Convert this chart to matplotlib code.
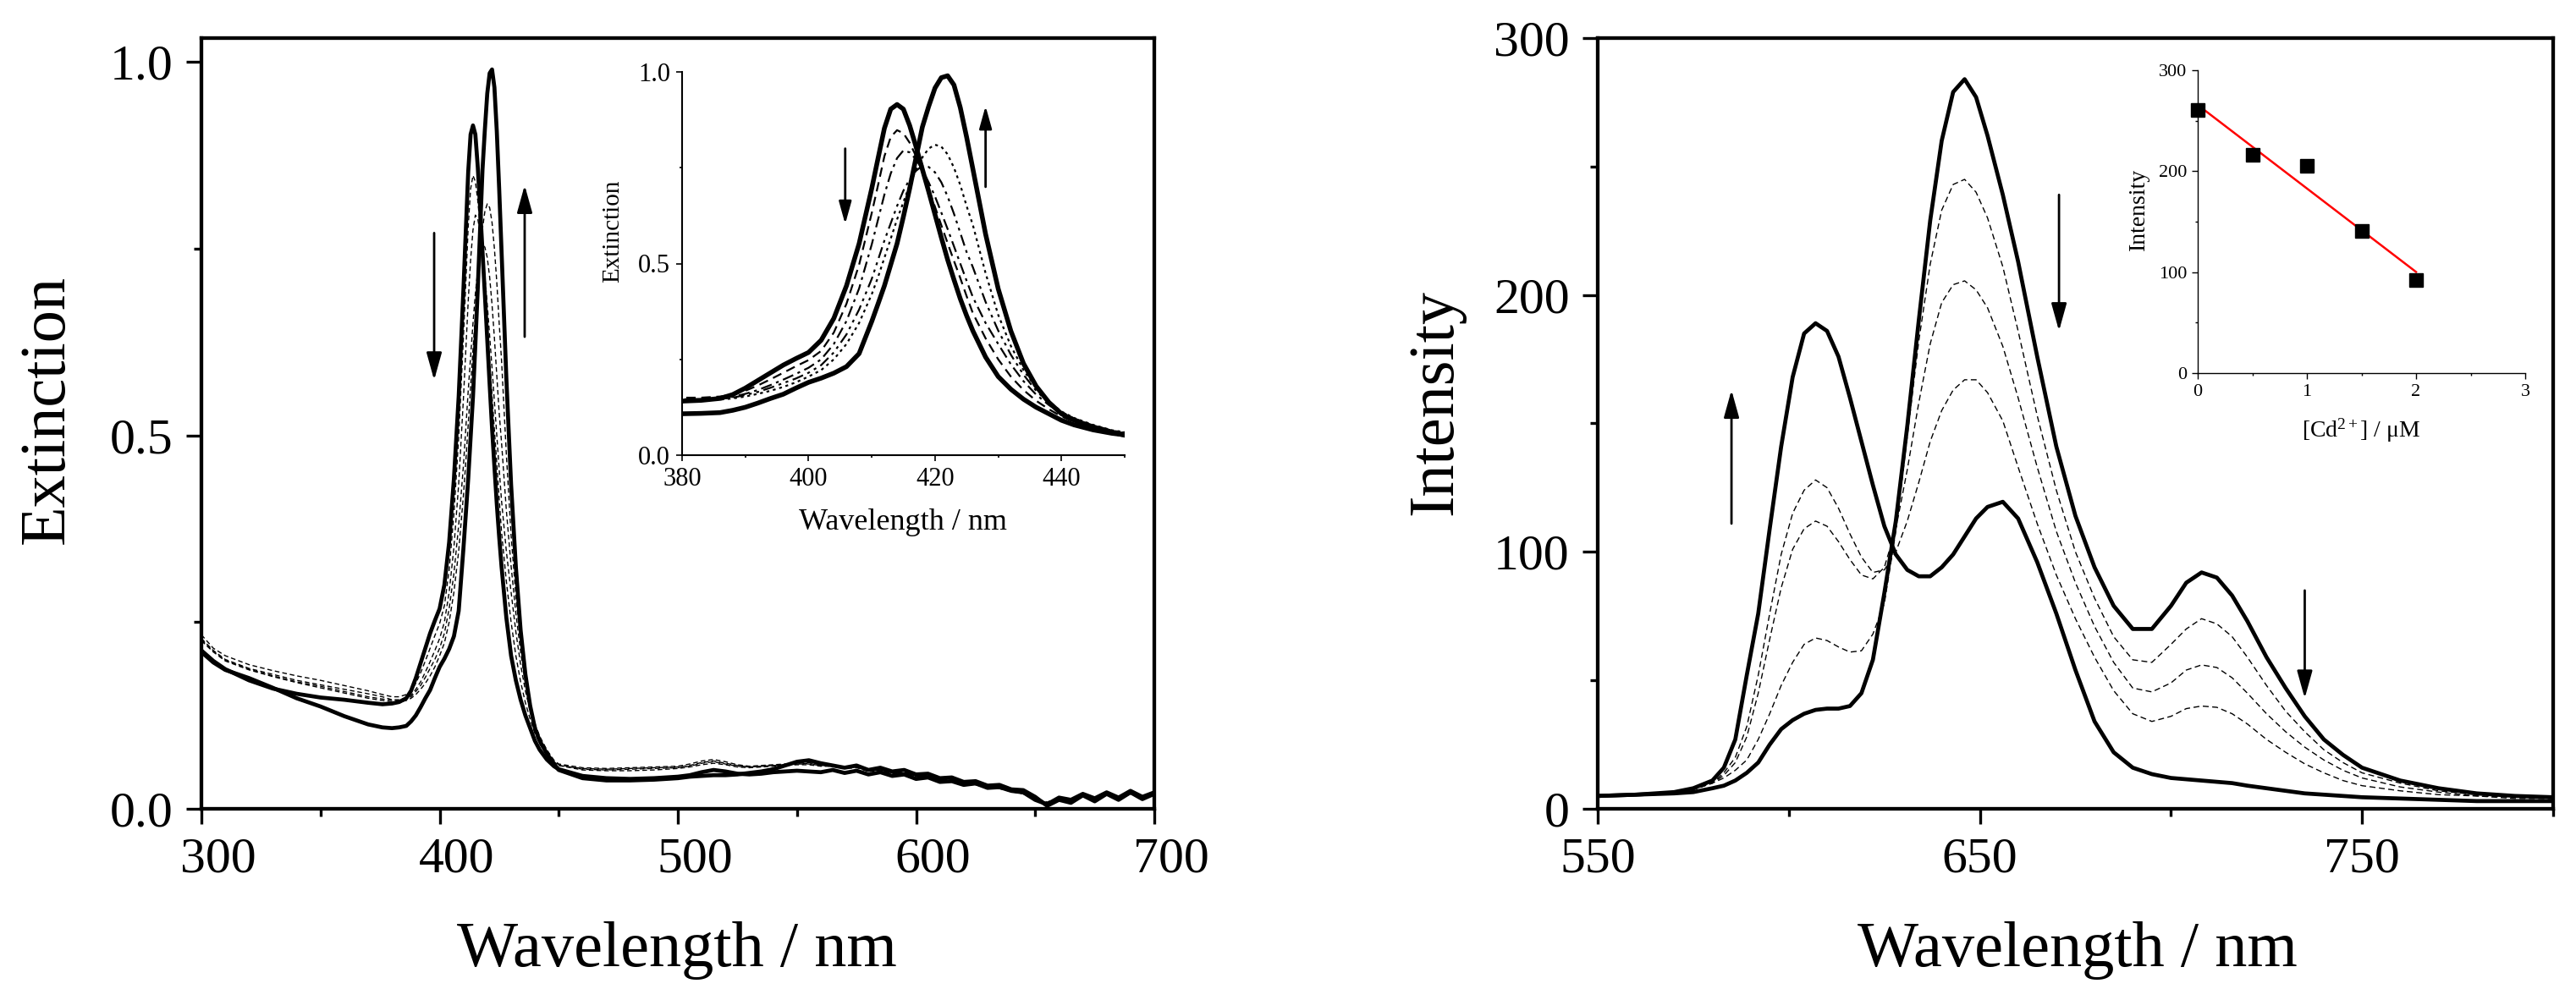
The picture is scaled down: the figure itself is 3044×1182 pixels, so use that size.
import numpy as np
import matplotlib
matplotlib.use("Agg")
import matplotlib.pyplot as plt
import matplotlib.transforms as mtrans
from matplotlib.ticker import FormatStrFormatter

plt.rcParams['font.family'] = ['Liberation Serif', 'DejaVu Serif']
plt.rcParams['mathtext.fontset'] = 'custom'
plt.rcParams['mathtext.rm'] = 'Liberation Serif'
plt.rcParams['mathtext.it'] = 'Liberation Serif:italic'

# ---- extinction spectra (left panel) ----
wl_abs = [300, 305, 310, 320, 330, 340, 350, 360, 370, 376,
          380, 383, 386, 388, 390, 392, 394, 396, 398, 400,
          402, 404, 406, 408, 410, 411, 412, 413, 414, 415,
          416, 417, 418, 419, 420, 421, 422, 423, 424, 425,
          426, 428, 430, 432, 434, 436, 438, 440, 442, 445,
          448, 450, 460, 470, 480, 490, 500, 505, 510, 515,
          520, 525, 530, 535, 540, 545, 550, 555, 560, 565,
          570, 575, 580, 585, 590, 595, 600, 605, 610, 615,
          620, 625, 630, 635, 640, 645, 650, 655, 660, 665,
          670, 675, 680, 685, 690, 695, 700]

abs_start = [0.212, 0.198, 0.187, 0.172, 0.161, 0.154, 0.149, 0.146, 0.142, 0.140,
             0.141, 0.143, 0.148, 0.158, 0.175, 0.195, 0.215, 0.235, 0.252, 0.268,
             0.300, 0.357, 0.442, 0.552, 0.696, 0.775, 0.853, 0.903, 0.915, 0.903,
             0.860, 0.805, 0.746, 0.688, 0.628, 0.568, 0.510, 0.458, 0.408, 0.364,
             0.324, 0.256, 0.205, 0.172, 0.146, 0.125, 0.108, 0.091, 0.079, 0.066,
             0.057, 0.053, 0.044, 0.041, 0.040, 0.041, 0.043, 0.045, 0.049, 0.052,
             0.050, 0.047, 0.046, 0.047, 0.049, 0.050, 0.051, 0.050, 0.049, 0.052,
             0.048, 0.051, 0.046, 0.049, 0.044, 0.046, 0.040, 0.042, 0.036, 0.037,
             0.032, 0.034, 0.028, 0.029, 0.024, 0.022, 0.012, 0.006, 0.015, 0.012,
             0.020, 0.014, 0.022, 0.015, 0.024, 0.016, 0.022]

abs_end = [0.210, 0.196, 0.186, 0.175, 0.162, 0.148, 0.137, 0.124, 0.113, 0.109,
           0.108, 0.109, 0.111, 0.117, 0.125, 0.136, 0.148, 0.159, 0.175, 0.190,
           0.201, 0.214, 0.231, 0.265, 0.349, 0.395, 0.442, 0.497, 0.552, 0.622,
           0.696, 0.776, 0.856, 0.910, 0.958, 0.985, 0.990, 0.966, 0.907, 0.830,
           0.746, 0.577, 0.434, 0.324, 0.239, 0.180, 0.138, 0.108, 0.091, 0.074,
           0.060, 0.052, 0.041, 0.038, 0.038, 0.039, 0.041, 0.043, 0.044, 0.045,
           0.045, 0.046, 0.048, 0.050, 0.053, 0.058, 0.063, 0.065, 0.061, 0.058,
           0.055, 0.058, 0.052, 0.055, 0.050, 0.052, 0.046, 0.047, 0.041, 0.042,
           0.036, 0.037, 0.031, 0.032, 0.026, 0.025, 0.016, 0.004, 0.012, 0.008,
           0.018, 0.010, 0.020, 0.012, 0.022, 0.013, 0.020]

abs_mid1 = [0.233, 0.215, 0.205, 0.193, 0.185, 0.178, 0.172, 0.165, 0.158, 0.153,
            0.150, 0.150, 0.153, 0.158, 0.168, 0.182, 0.198, 0.215, 0.232, 0.248,
            0.272, 0.320, 0.395, 0.497, 0.632, 0.705, 0.780, 0.830, 0.848, 0.840,
            0.815, 0.780, 0.740, 0.695, 0.648, 0.600, 0.553, 0.507, 0.462, 0.415,
            0.370, 0.305, 0.250, 0.205, 0.170, 0.142, 0.120, 0.101, 0.087, 0.072,
            0.062, 0.058, 0.054, 0.053, 0.054, 0.055, 0.056, 0.058, 0.062, 0.064,
            0.061, 0.058, 0.056, 0.057, 0.058, 0.059, 0.060, 0.061, 0.058, 0.058,
            0.055, 0.056, 0.051, 0.052, 0.048, 0.048, 0.044, 0.043, 0.039, 0.038,
            0.034, 0.033, 0.029, 0.028, 0.024, 0.021, 0.013, 0.008, 0.014, 0.011,
            0.018, 0.013, 0.020, 0.014, 0.021, 0.015, 0.020]

abs_mid2 = [0.228, 0.212, 0.200, 0.188, 0.180, 0.172, 0.166, 0.160, 0.154, 0.150,
            0.146, 0.146, 0.148, 0.152, 0.160, 0.170, 0.183, 0.197, 0.212, 0.228,
            0.250, 0.290, 0.350, 0.435, 0.550, 0.615, 0.680, 0.735, 0.775, 0.795,
            0.790, 0.772, 0.745, 0.712, 0.675, 0.633, 0.590, 0.545, 0.500, 0.455,
            0.412, 0.345, 0.290, 0.237, 0.193, 0.158, 0.131, 0.109, 0.093, 0.076,
            0.063, 0.058, 0.052, 0.051, 0.051, 0.052, 0.054, 0.056, 0.059, 0.061,
            0.059, 0.056, 0.055, 0.056, 0.057, 0.058, 0.059, 0.059, 0.057, 0.057,
            0.054, 0.055, 0.050, 0.051, 0.047, 0.047, 0.043, 0.042, 0.038, 0.037,
            0.033, 0.032, 0.028, 0.027, 0.023, 0.020, 0.012, 0.007, 0.013, 0.010,
            0.017, 0.012, 0.019, 0.013, 0.020, 0.014, 0.019]

abs_mid3 = [0.226, 0.211, 0.199, 0.187, 0.178, 0.170, 0.164, 0.157, 0.150, 0.147,
            0.145, 0.145, 0.147, 0.150, 0.157, 0.165, 0.176, 0.188, 0.200, 0.215,
            0.235, 0.268, 0.315, 0.380, 0.460, 0.510, 0.560, 0.605, 0.650, 0.690,
            0.720, 0.742, 0.755, 0.752, 0.738, 0.712, 0.675, 0.630, 0.580, 0.530,
            0.490, 0.400, 0.325, 0.262, 0.210, 0.168, 0.137, 0.113, 0.096, 0.078,
            0.064, 0.059, 0.053, 0.052, 0.053, 0.054, 0.055, 0.057, 0.061, 0.063,
            0.060, 0.057, 0.056, 0.057, 0.058, 0.059, 0.060, 0.060, 0.058, 0.058,
            0.055, 0.056, 0.051, 0.052, 0.048, 0.048, 0.044, 0.043, 0.039, 0.038,
            0.034, 0.033, 0.029, 0.028, 0.024, 0.021, 0.013, 0.008, 0.014, 0.011,
            0.018, 0.013, 0.020, 0.014, 0.021, 0.015, 0.020]

abs_mid4 = [0.225, 0.210, 0.198, 0.186, 0.177, 0.169, 0.162, 0.155, 0.148, 0.145,
            0.143, 0.143, 0.145, 0.148, 0.153, 0.160, 0.168, 0.178, 0.190, 0.205,
            0.222, 0.250, 0.290, 0.345, 0.420, 0.465, 0.515, 0.565, 0.615, 0.660,
            0.705, 0.745, 0.777, 0.800, 0.810, 0.805, 0.785, 0.750, 0.705, 0.650,
            0.600, 0.475, 0.366, 0.285, 0.222, 0.175, 0.140, 0.114, 0.097, 0.079,
            0.065, 0.060, 0.055, 0.054, 0.055, 0.056, 0.057, 0.060, 0.064, 0.066,
            0.063, 0.059, 0.057, 0.058, 0.059, 0.060, 0.061, 0.062, 0.059, 0.059,
            0.056, 0.057, 0.052, 0.053, 0.049, 0.049, 0.045, 0.044, 0.040, 0.039,
            0.035, 0.034, 0.030, 0.029, 0.025, 0.022, 0.014, 0.009, 0.015, 0.012,
            0.019, 0.014, 0.021, 0.015, 0.022, 0.016, 0.021]

# ---- fluorescence spectra (right panel) ----
wl_em = [550, 560, 570, 575, 580, 583, 586, 589, 592, 595,
         598, 601, 604, 607, 610, 613, 616, 619, 622, 625,
         628, 631, 634, 637, 640, 643, 646, 649, 652, 656,
         660, 665, 670, 675, 680, 685, 690, 695, 700, 704,
         708, 712, 716, 720, 725, 730, 735, 740, 745, 750,
         760, 770, 780, 790, 800]

em_start = [5, 5.5, 6, 6.5, 8, 9, 11, 14, 18, 25,
            31, 34.5, 37, 38.5, 39, 39, 40, 45, 58, 84,
            112, 149, 190, 229, 260, 279, 284, 277, 262, 239,
            213, 176, 141, 114, 94, 79, 70, 70, 79, 88,
            92, 90, 83, 73, 59, 47, 36, 27, 21, 16,
            11, 8, 6, 5, 4.5]

em_end = [5, 5.5, 6.5, 8, 11, 16, 27, 52, 76, 109,
          141, 168, 185, 189, 186, 176, 160, 143, 126, 110,
          99, 93, 90.5, 90.5, 94, 99, 106, 113, 117.5, 119.5,
          113, 96, 76, 54, 34, 22, 16, 13.5, 12, 11.5,
          11, 10.5, 10, 9, 8, 7, 6, 5.5, 5, 4.5,
          4, 3.5, 3, 3, 3]

em_mid1 = [5, 5.5, 6.5, 7.5, 10, 12, 15, 19, 27, 37,
           48, 57, 64, 66.5, 65.5, 63, 61, 61.5, 68, 80,
           108, 145, 182, 212, 233, 243, 245, 240, 230, 211,
           186, 153, 124, 100, 82, 67, 58, 57, 64, 70,
           74, 72, 67, 59, 48, 38, 30, 23, 18, 14,
           10, 7, 5.5, 5, 4.5]

em_mid2 = [5, 5.5, 6.5, 7.5, 10, 13, 18, 28, 45, 66,
           86, 101, 109, 112, 110, 104, 97, 91, 89.5, 94,
           109, 132, 158, 181, 197, 204, 205.5, 202, 195, 180,
           160, 133, 108, 88, 71, 57, 47, 45.5, 49, 54,
           56, 55, 51, 45, 37, 30, 24, 19, 15, 12,
           8.5, 6.5, 5, 4.5, 4]

em_mid3 = [5, 5.5, 6.5, 7.5, 10, 14, 20, 32, 52, 76,
           99, 115, 124, 128, 125, 117, 107, 98, 92, 93,
           100, 112, 127, 143, 155, 163, 167, 167, 162, 151,
           133, 111, 91, 74, 59, 46, 37, 34, 36, 39,
           40, 39.5, 37, 33, 27, 22, 17.5, 14, 11, 9,
           7, 5.5, 5, 4, 4]

# ---- calibration inset ----
cd_conc = [0, 0.5, 1.0, 1.5, 2.0]
cd_int = [261, 216, 205, 140.5, 92]

W, H = 3044, 1182
fig = plt.figure(figsize=(W / 100, H / 100), dpi=100)


def px_axes(l, t, r, b):
    return fig.add_axes([l / W, 1 - b / H, (r - l) / W, (b - t) / H])


def style(ax, spine_w, tlen, tw, pad, size, box=True):
    for s in ax.spines.values():
        s.set_linewidth(spine_w)
    if not box:
        ax.spines['top'].set_visible(False)
        ax.spines['right'].set_visible(False)
    ax.tick_params(which='both', direction='out', top=False, right=False,
                   width=tw, labelsize=size, pad=pad)
    ax.tick_params(which='major', length=tlen)
    ax.tick_params(which='minor', length=tlen / 2)


def label(x, y, s, size, rot=0):
    fig.text(x / W, 1 - y / H, s, fontsize=size, rotation=rot,
             rotation_mode='anchor', ha='center', va='baseline')


def arrow(ax, x, y0, y1, lw=2.0, ms=22):
    ax.annotate('', xy=(x, y1), xytext=(x, y0),
                arrowprops=dict(arrowstyle='-|>,head_length=0.9,head_width=0.25',
                                lw=lw, color='k', shrinkA=0, shrinkB=0,
                                mutation_scale=ms))


thick = dict(color='k', lw=3.4, solid_joinstyle='round')
thin = dict(color='k', lw=1.0)

# left main
ax1 = px_axes(238, 45, 1364, 956)
for y in [abs_mid1, abs_mid2, abs_mid3, abs_mid4]:
    ax1.plot(wl_abs, y, ls=(0, (4, 2.5)), **thin)
ax1.plot(wl_abs, abs_start, **thick)
ax1.plot(wl_abs, abs_end, **thick)
ax1.set_xlim(300, 700)
ax1.set_ylim(0, 1.032)
ax1.set_xticks([300, 400, 500, 600, 700])
ax1.set_xticks([350, 450, 550, 650], minor=True)
ax1.set_yticks([0, 0.5, 1.0])
ax1.set_yticks([0.25, 0.75], minor=True)
ax1.yaxis.set_major_formatter(FormatStrFormatter('%.1f'))
style(ax1, 3.1, 13, 2.4, 11, 43)
shift = mtrans.ScaledTranslation(0.2, 0, fig.dpi_scale_trans)
for t in ax1.xaxis.get_major_ticks():
    t.label1.set_transform(t.label1.get_transform() + shift)
arrow(ax1, 397.7, 0.771, 0.574)
arrow(ax1, 435.7, 0.632, 0.835)
label(800, 1142, 'Wavelength / nm', 55)
label(75, 484, 'Extinction', 55, 90)

# left inset
ax2 = px_axes(806, 85, 1329, 538)
ax2.plot(wl_abs, abs_mid1, color='k', lw=1.6, ls=(0, (5, 3)))
ax2.plot(wl_abs, abs_mid2, color='k', lw=1.6, ls=(0, (6, 2.5, 1.5, 2.5)))
ax2.plot(wl_abs, abs_mid3, color='k', lw=1.6, ls=(0, (6, 2.5, 1.5, 2.5, 1.5, 2.5)))
ax2.plot(wl_abs, abs_mid4, color='k', lw=1.6, ls=(0, (1.5, 2)))
ax2.plot(wl_abs, abs_start, color='k', lw=4.0)
ax2.plot(wl_abs, abs_end, color='k', lw=4.0)
ax2.set_xlim(380, 450)
ax2.set_ylim(0, 1.0)
ax2.set_xticks([380, 400, 420, 440])
ax2.set_xticks([390, 410, 430, 450], minor=True)
ax2.set_yticks([0, 0.5, 1.0])
ax2.set_yticks([0.25, 0.75], minor=True)
ax2.yaxis.set_major_formatter(FormatStrFormatter('%.1f'))
style(ax2, 1.5, 5, 1.2, 5, 22, box=False)
arrow(ax2, 405.8, 0.80, 0.603, lw=2.0, ms=18)
arrow(ax2, 428.0, 0.70, 0.911, lw=2.0, ms=18)
label(1067, 626, 'Wavelength / nm', 26)
label(731, 273, 'Extinction', 21, 90)

# right main
ax3 = px_axes(1888, 45, 3017, 956)
for y in [em_mid1, em_mid2, em_mid3]:
    ax3.plot(wl_em, y, ls=(0, (5, 3)), **thin)
ax3.plot(wl_em, em_start, **thick)
ax3.plot(wl_em, em_end, **thick)
ax3.set_xlim(550, 800)
ax3.set_ylim(0, 300)
ax3.set_xticks([550, 650, 750])
ax3.set_xticks([600, 700, 800], minor=True)
ax3.set_yticks([0, 100, 200, 300])
ax3.set_yticks([50, 150, 250], minor=True)
style(ax3, 3.1, 13, 2.4, 11, 43)
arrow(ax3, 585, 111, 163)
arrow(ax3, 670.7, 239, 186)
arrow(ax3, 735, 85, 43)
label(2455, 1142, 'Wavelength / nm', 55)
label(1715, 475, 'Intensity', 55, 90)

# right inset
ax4 = px_axes(2597, 83, 2984, 441)
fit = np.polyfit(cd_conc, cd_int, 1)
ax4.plot(cd_conc, np.polyval(fit, cd_conc), color='red', lw=1.8)
ax4.plot(cd_conc, cd_int, 's', color='k', ms=11, clip_on=False)
ax4.set_xlim(0, 3)
ax4.set_ylim(0, 300)
ax4.set_xticks([0, 1, 2, 3])
ax4.set_xticks([0.5, 1.5, 2.5], minor=True)
ax4.set_yticks([0, 100, 200, 300])
ax4.set_yticks([50, 150, 250], minor=True)
style(ax4, 1.0, 5, 1.0, 4, 16, box=False)
label(2790, 517, '[Cd$^{2+}$] / μM', 20)
label(2534, 247, 'Intensity', 20, 90)

fig.savefig('out.png', dpi=100, facecolor='white')
